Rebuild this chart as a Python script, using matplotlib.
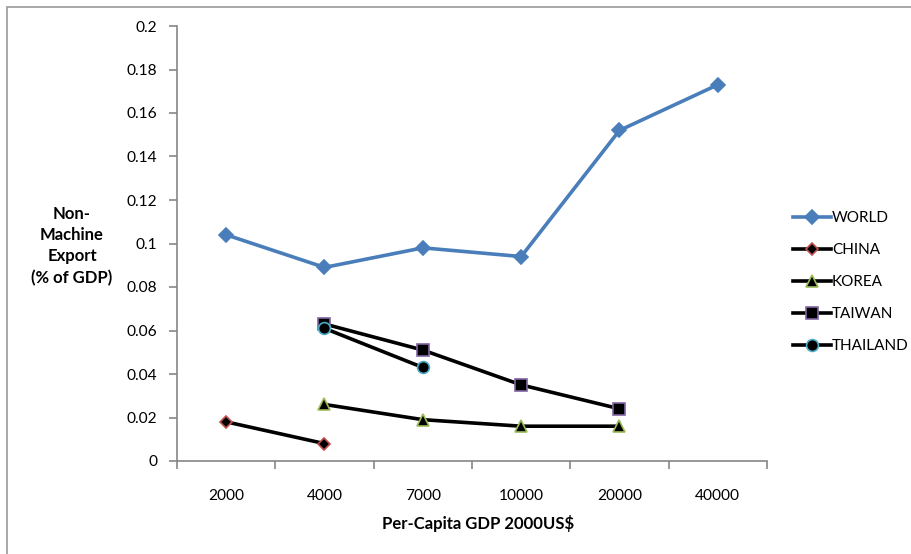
import matplotlib.pyplot as plt
from matplotlib.patches import Rectangle
from matplotlib.lines import Line2D

plt.rcParams['font.family'] = ['Lato', 'DejaVu Sans']

gdp_levels = ['2000', '4000', '7000', '10000', '20000', '40000']

world = [0.104, 0.089, 0.098, 0.094, 0.152, 0.173]
china = [0.018, 0.008]
korea = [0.026, 0.019, 0.016, 0.016]
taiwan = [0.063, 0.051, 0.035, 0.024]
thailand = [0.061, 0.043]

# (name, values, first category index, marker, size, face, edge, line colour)
series = [
    ('WORLD', world, 0, 'D', 7, '#4A7EBB', '#4A7EBB', '#4A7EBB'),
    ('CHINA', china, 0, 'D', 6, 'black', '#C0504D', 'black'),
    ('KOREA', korea, 1, '^', 8, 'black', '#9BBB59', 'black'),
    ('TAIWAN', taiwan, 1, 's', 8.5, 'black', '#8064A2', 'black'),
    ('THAILAND', thailand, 1, 'o', 8.5, 'black', '#4BACC6', 'black'),
]

fig = plt.figure(figsize=(9.12, 5.54), dpi=100)
# outer chart border (only top/left show inside the canvas)
fig.patches.append(Rectangle((7 / 912, -0.1), 1.2, 1 - 7 / 554 + 0.1,
                             transform=fig.transFigure, fill=False,
                             edgecolor='#9a9a9a', linewidth=1.2))

ax = fig.add_axes([177 / 912, 1 - 461 / 554, 590 / 912, 435 / 554])

handles = []
for name, vals, start, mk, ms, fc, ec, lc in series:
    xs = list(range(start, start + len(vals)))
    ax.plot(xs, vals, color=lc, linewidth=2.6, marker=mk, markersize=ms,
            markerfacecolor=fc, markeredgecolor=ec, markeredgewidth=1.2,
            zorder=3)
    handles.append(Line2D([], [], color=lc, linewidth=2.6, marker=mk,
                          markersize=ms, markerfacecolor=fc,
                          markeredgecolor=ec, markeredgewidth=1.2,
                          label=name))

ax.set_xlim(-0.5, len(gdp_levels) - 0.5)
ax.set_ylim(0, 0.2)

ax.set_yticks([i * 0.02 for i in range(11)])
ax.set_yticklabels(['0', '0.02', '0.04', '0.06', '0.08', '0.1', '0.12',
                    '0.14', '0.16', '0.18', '0.2'])

ax.set_xticks([i - 0.5 for i in range(len(gdp_levels) + 1)])
ax.set_xticklabels([])
ax.set_xticks(range(len(gdp_levels)), minor=True)
ax.set_xticklabels(gdp_levels, minor=True)
ax.tick_params(axis='x', which='minor', length=0, pad=20, labelsize=11.2)
ax.tick_params(axis='x', which='major', length=6, color='#868686', width=1.2)
ax.tick_params(axis='y', length=6, color='#868686', width=1.2, pad=8,
               labelsize=11.2)

for side in ['top', 'right']:
    ax.spines[side].set_visible(False)
for side in ['left', 'bottom']:
    ax.spines[side].set_color('#868686')
    ax.spines[side].set_linewidth(1.2)

fig.text(72 / 912, 1 - 246 / 554, 'Non-\nMachine\nExport\n(% of GDP)',
         ha='center', va='center', fontsize=12, fontweight='bold',
         linespacing=1.4)
fig.text(478 / 912, 1 - 524 / 554, 'Per-Capita GDP 2000US$', ha='center',
         va='center', fontsize=12, fontweight='bold')

fig.legend(handles=handles, loc='upper left',
           bbox_to_anchor=(787 / 912, 1 - 205 / 554), frameon=False,
           fontsize=11, handlelength=2.5, handletextpad=0.05,
           labelspacing=1.18, borderaxespad=0)

fig.savefig('out.png', dpi=100)
